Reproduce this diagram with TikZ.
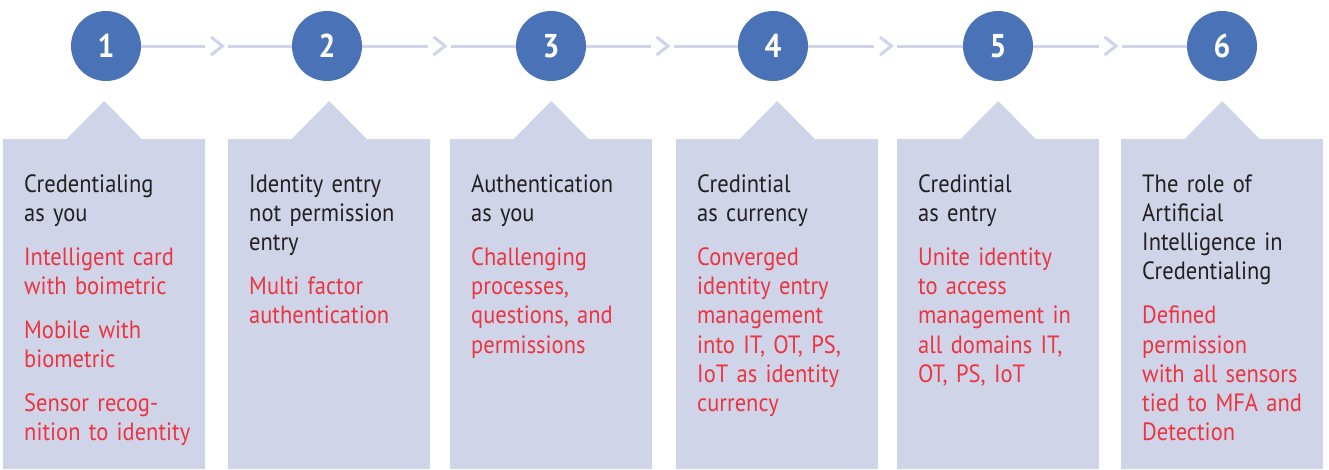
\documentclass[tikz,border=0pt]{standalone}
\usepackage{fontspec}
\setmainfont{PT Sans}[FakeStretch=0.9]
\usetikzlibrary{positioning,calc}
\definecolor{stepblue}{RGB}{74,114,183}
\definecolor{steplilac}{RGB}{208,212,232}
\definecolor{stepred}{RGB}{236,52,64}
\definecolor{stepink}{RGB}{35,31,32}

\tikzset{
  stepnum/.style={circle, fill=stepblue, minimum size=70pt, inner sep=0pt,
    text=white, font=\fontsize{33}{33}\selectfont\bfseries},
  link/.style={draw=steplilac, line width=3pt},
  card/.style={rectangle, fill=steplilac, minimum width=202pt,
    minimum height=330pt, inner sep=0pt, anchor=north west},
  cardtext/.style={anchor=base west, text width=178pt, align=left,
    inner sep=0pt, text=stepink, font=\fontsize{25}{29.3}\selectfont},
}

\begin{document}
\begin{tikzpicture}[x=1pt, y=-1pt]
    \useasboundingbox (0,0) rectangle (1329,469);

    % Step circles
    \node[stepnum] (num1) at (106,46) {1};
    \node[stepnum] (num2) at (327,46) {2};
    \node[stepnum] (num3) at (551,46) {3};
    \node[stepnum] (num4) at (773,46) {4};
    \node[stepnum] (num5) at (998,46) {5};
    \node[stepnum] (num6) at (1222,46) {6};

    % Links with a chevron halfway
    \coordinate (mid12) at ($(num1)!0.5!(num2)$);
    \draw[link] (num1) -- ($(mid12)+(-11.5,0)$);
    \draw[link] ($(mid12)+(-5.5,-9)$) -- ($(mid12)+(6,0)$) -- ($(mid12)+(-5.5,9)$);
    \draw[link] ($(mid12)+(11.5,0)$) -- (num2);

    \coordinate (mid23) at ($(num2)!0.5!(num3)$);
    \draw[link] (num2) -- ($(mid23)+(-11.5,0)$);
    \draw[link] ($(mid23)+(-5.5,-9)$) -- ($(mid23)+(6,0)$) -- ($(mid23)+(-5.5,9)$);
    \draw[link] ($(mid23)+(11.5,0)$) -- (num3);

    \coordinate (mid34) at ($(num3)!0.5!(num4)$);
    \draw[link] (num3) -- ($(mid34)+(-11.5,0)$);
    \draw[link] ($(mid34)+(-5.5,-9)$) -- ($(mid34)+(6,0)$) -- ($(mid34)+(-5.5,9)$);
    \draw[link] ($(mid34)+(11.5,0)$) -- (num4);

    \coordinate (mid45) at ($(num4)!0.5!(num5)$);
    \draw[link] (num4) -- ($(mid45)+(-11.5,0)$);
    \draw[link] ($(mid45)+(-5.5,-9)$) -- ($(mid45)+(6,0)$) -- ($(mid45)+(-5.5,9)$);
    \draw[link] ($(mid45)+(11.5,0)$) -- (num5);

    \coordinate (mid56) at ($(num5)!0.5!(num6)$);
    \draw[link] (num5) -- ($(mid56)+(-11.5,0)$);
    \draw[link] ($(mid56)+(-5.5,-9)$) -- ($(mid56)+(6,0)$) -- ($(mid56)+(-5.5,9)$);
    \draw[link] ($(mid56)+(11.5,0)$) -- (num6);

    % Card 1
    \node[card] (card1) at (3,139) {};
    \fill[steplilac] ([xshift=-37.5pt]card1.north) -- ([yshift=38pt]card1.north) -- ([xshift=37.5pt]card1.north) -- cycle;
    \node[cardtext] (text1) at ([xshift=21pt,yshift=-53pt]card1.north west)
      {Credentialing\\as you\\[14.5pt]\color{stepred}Intelligent card\\with boimetric\\[14.5pt]Mobile with\\biometric\\[14.5pt]Sensor recog-\\nition to identity};

    % Card 2
    \node[card] (card2) at (228,139) {};
    \fill[steplilac] ([xshift=-37.5pt]card2.north) -- ([yshift=38pt]card2.north) -- ([xshift=37.5pt]card2.north) -- cycle;
    \node[cardtext] (text2) at ([xshift=21pt,yshift=-53pt]card2.north west)
      {Identity entry\\not permission\\entry\\[14.5pt]\color{stepred}Multi factor\\authentication};

    % Card 3
    \node[card] (card3) at (450,139) {};
    \fill[steplilac] ([xshift=-37.5pt]card3.north) -- ([yshift=38pt]card3.north) -- ([xshift=37.5pt]card3.north) -- cycle;
    \node[cardtext] (text3) at ([xshift=21pt,yshift=-53pt]card3.north west)
      {Authentication\\as you\\[14.5pt]\color{stepred}Challenging\\processes,\\questions, and\\permissions};

    % Card 4
    \node[card] (card4) at (676,139) {};
    \fill[steplilac] ([xshift=-37.5pt]card4.north) -- ([yshift=38pt]card4.north) -- ([xshift=37.5pt]card4.north) -- cycle;
    \node[cardtext] (text4) at ([xshift=21pt,yshift=-53pt]card4.north west)
      {Credintial\\as currency\\[14.5pt]\color{stepred}Converged\\identity entry\\management\\into IT, OT, PS,\\IoT as identity\\currency};

    % Card 5
    \node[card] (card5) at (897,139) {};
    \fill[steplilac] ([xshift=-37.5pt]card5.north) -- ([yshift=38pt]card5.north) -- ([xshift=37.5pt]card5.north) -- cycle;
    \node[cardtext] (text5) at ([xshift=21pt,yshift=-53pt]card5.north west)
      {Credintial\\as entry\\[14.5pt]\color{stepred}Unite identity\\to access\\management in\\all domains IT,\\OT, PS, IoT};

    % Card 6
    \node[card] (card6) at (1121,139) {};
    \fill[steplilac] ([xshift=-37.5pt]card6.north) -- ([yshift=38pt]card6.north) -- ([xshift=37.5pt]card6.north) -- cycle;
    \node[cardtext] (text6) at ([xshift=21pt,yshift=-53pt]card6.north west)
      {The role of\\Artificial\\Intelligence in\\Credentialing\\[14.5pt]\color{stepred}Defined\\permission\\with all sensors\\tied to MFA and\\Detection};
\end{tikzpicture}
\end{document}
